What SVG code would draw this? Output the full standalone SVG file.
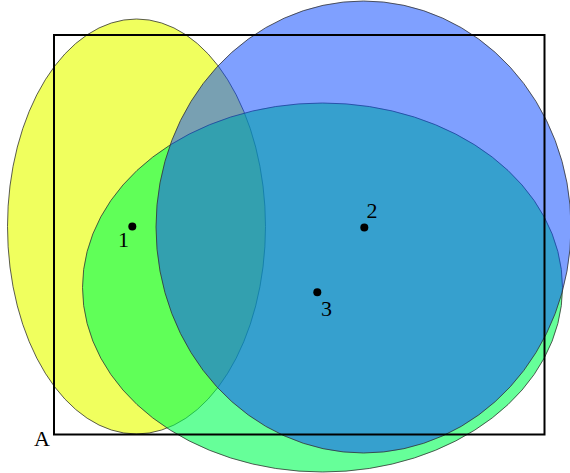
<svg xmlns="http://www.w3.org/2000/svg" width="570" height="473" viewBox="0 0 570 473">
<style>
.set{stroke:#333;stroke-opacity:0.8;stroke-width:1}
.pt{fill:#000}
.lbl{font-family:"Liberation Serif","Times New Roman",serif;font-size:22px;fill:#000}
</style>
<rect width="570" height="473" fill="#fff"/>
<g id="setY"><ellipse class="set" cx="136.5" cy="226.5" rx="129" ry="207.5" fill="#e8ff00" fill-opacity="0.63"/></g>
<g id="setG"><ellipse class="set" cx="322.5" cy="287.5" rx="240" ry="184.5" fill="#00ff55" fill-opacity="0.6"/></g>
<g id="setB"><ellipse class="set" cx="363.5" cy="227" rx="207.5" ry="226" fill="#0a49ff" fill-opacity="0.52"/></g>
<g id="frame"><rect x="54" y="35" width="490.5" height="399.5" fill="none" stroke="#000" stroke-width="2"/>
<text class="lbl" x="34" y="446">A</text></g>
<g id="p1"><circle class="pt" cx="132.3" cy="226.5" r="4"/><text class="lbl" x="118" y="247">1</text></g>
<g id="p2"><circle class="pt" cx="364.3" cy="227.5" r="4"/><text class="lbl" x="366.5" y="218">2</text></g>
<g id="p3"><circle class="pt" cx="317.3" cy="292.3" r="4"/><text class="lbl" x="321" y="316">3</text></g>
</svg>
